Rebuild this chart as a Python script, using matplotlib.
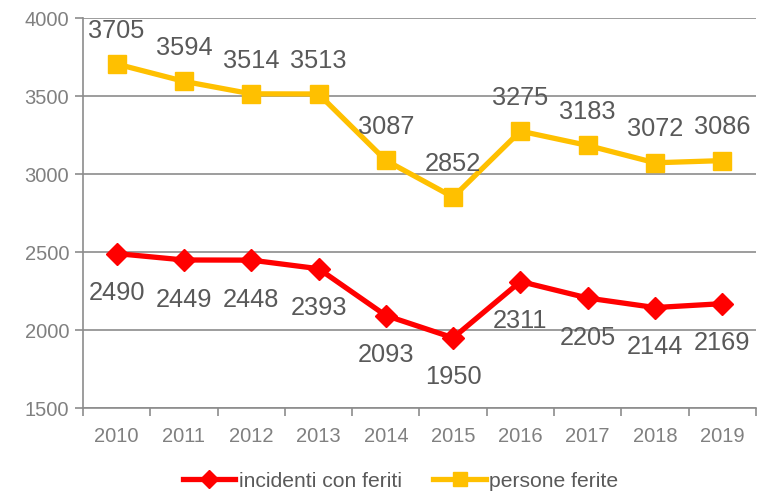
import matplotlib
matplotlib.use("Agg")
import matplotlib.pyplot as plt
from matplotlib.ticker import FixedLocator, NullFormatter

years = ["2010", "2011", "2012", "2013", "2014", "2015", "2016", "2017", "2018", "2019"]
incidenti = [2490, 2449, 2448, 2393, 2093, 1950, 2311, 2205, 2144, 2169]
persone = [3705, 3594, 3514, 3513, 3087, 2852, 3275, 3183, 3072, 3086]

plt.rcParams['font.family'] = ['Liberation Sans', 'DejaVu Sans']

fig = plt.figure(figsize=(7.59, 4.91), dpi=100)
ax = fig.add_axes([0.1094, 0.169, 0.8866, 0.7943])

x = list(range(len(years)))
grid_c = '#8c8c8c'
ax.plot(x, incidenti, color='#FF0000', lw=3.8, marker='D', ms=11, label='incidenti con feriti', zorder=3)
ax.plot(x, persone, color='#FFC000', lw=3.8, marker='s', ms=13, label='persone ferite', zorder=3)

for xi, v in zip(x, persone):
    ax.annotate(str(v), (xi, v), xytext=(0, 24), textcoords='offset points',
                ha='center', va='center', fontsize=18.3, color='#595959')
for xi, v in zip(x, incidenti):
    ax.annotate(str(v), (xi, v), xytext=(0, -28.5), textcoords='offset points',
                ha='center', va='center', fontsize=18.3, color='#595959')

ax.set_xlim(-0.5, len(years) - 0.5)
ax.set_ylim(1500, 4000)
ax.set_yticks([1500, 2000, 2500, 3000, 3500, 4000])
ax.set_xticks(x)
ax.set_xticklabels(years)
ax.xaxis.set_minor_locator(FixedLocator([i - 0.5 for i in range(len(years) + 1)]))
ax.xaxis.set_minor_formatter(NullFormatter())
ax.tick_params(axis='x', which='major', length=0, labelsize=14.5, labelcolor='#808080', pad=14)
ax.tick_params(axis='x', which='minor', length=6, color=grid_c, width=1.2)
ax.tick_params(axis='y', length=6, color=grid_c, width=1.2, labelsize=14.5, labelcolor='#808080', pad=4)

ax.grid(axis='y', color=grid_c, lw=1.2)
ax.set_axisbelow(True)
for s in ['top', 'right']:
    ax.spines[s].set_visible(False)
for s in ['left', 'bottom']:
    ax.spines[s].set_color(grid_c)
    ax.spines[s].set_linewidth(1.2)

fig.legend(loc='center', bbox_to_anchor=(0.5277, 0.02), ncol=2, frameon=False,
           fontsize=15.2, labelcolor='#595959', handlelength=2.5, handletextpad=0.15,
           columnspacing=1.5, markerscale=0.8)

fig.savefig('out.png', dpi=100)
